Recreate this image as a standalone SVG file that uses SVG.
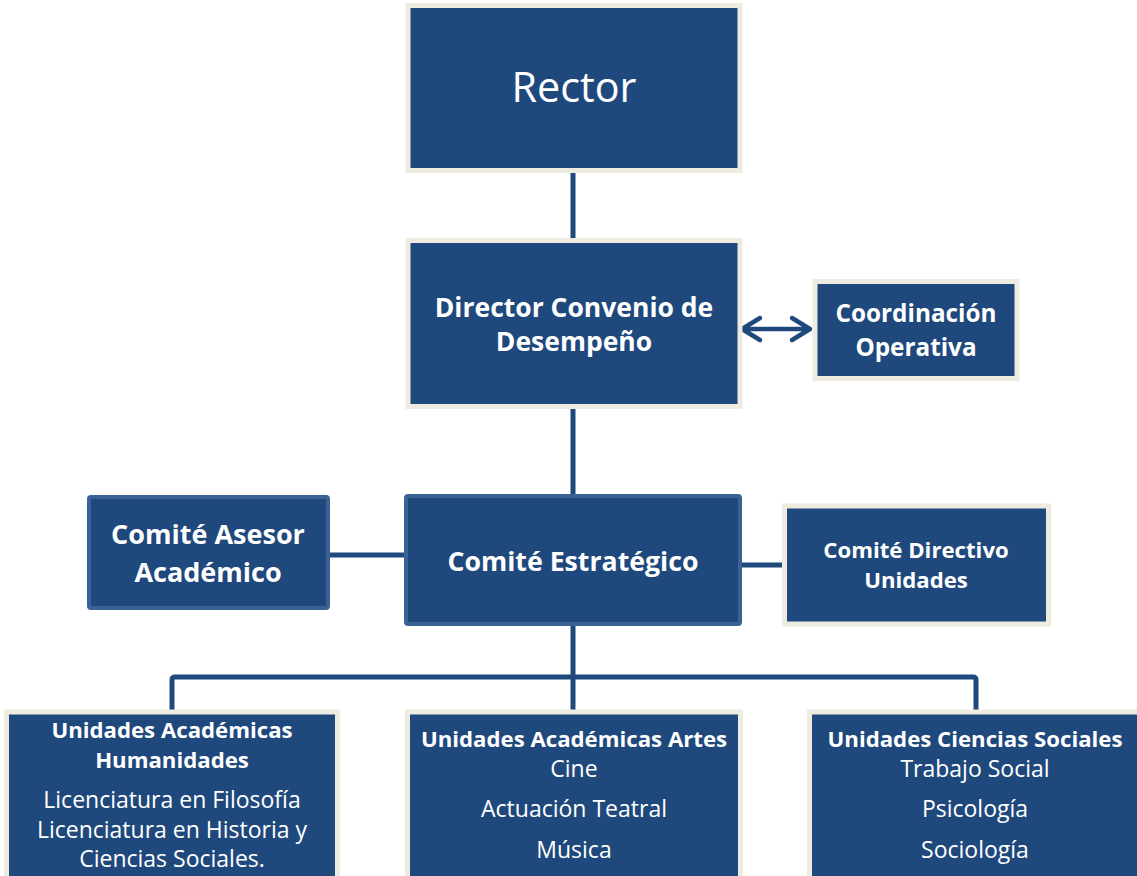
<svg xmlns="http://www.w3.org/2000/svg" width="1137" height="876" viewBox="0 0 1137 876">
<style>
.box{fill:#1f497d;stroke:#eeece1;stroke-width:5}
.boxb{fill:#1f497d;stroke:#3a6294;stroke-width:4}
.ln{fill:none;stroke:#1f497d;stroke-width:5}
.t{fill:#ffffff;font-family:"Open Sans","Noto Sans",sans-serif;text-anchor:middle}
.b{font-weight:bold}
.h{font-size:22.2px;font-weight:bold}
.r{font-size:23px}
</style>
<rect width="1137" height="876" fill="#ffffff"/>
<g id="connectors">
<line class="ln" x1="573" y1="172" x2="573" y2="240"/>
<line class="ln" x1="573" y1="407" x2="573" y2="496"/>
<line class="ln" x1="573" y1="624" x2="573" y2="712"/>
<path class="ln" d="M172 712 V680 Q172 677 175 677 H973 Q976 677 976 680 V712"/>
<line class="ln" x1="329" y1="555" x2="406" y2="555"/>
<line class="ln" x1="740" y1="565" x2="784" y2="565"/>
<g fill="none" stroke="#1f497d" stroke-width="4.5" stroke-linecap="round" stroke-linejoin="round">
<line x1="743" y1="329" x2="809" y2="329"/>
<path d="M760 318 L742 329 L760 340"/>
<path d="M792 318 L810 329 L792 340"/>
</g>
</g>
<g id="rector">
<rect class="box" x="408" y="5.5" width="332" height="165"/>
<text class="t" x="574" y="102" font-size="41.3">Rector</text>
</g>
<g id="director">
<rect class="box" x="408" y="240.5" width="332" height="166"/>
<text class="t b" x="574" y="317" font-size="26.5">Director Convenio de</text>
<text class="t b" x="574" y="351" font-size="26.5">Desempeño</text>
</g>
<g id="coordinacion">
<rect class="box" x="815" y="281.5" width="202" height="97"/>
<text class="t b" x="916" y="322" font-size="24.3">Coordinación</text>
<text class="t b" x="916" y="356" font-size="24.3">Operativa</text>
</g>
<g id="asesor">
<rect class="boxb" x="89" y="497" width="239" height="111" rx="2"/>
<text class="t b" x="208" y="544" font-size="27">Comité Asesor</text>
<text class="t b" x="208" y="582" font-size="27">Académico</text>
</g>
<g id="estrategico">
<rect class="boxb" x="406" y="496" width="334" height="128" rx="2"/>
<text class="t b" x="573" y="571" font-size="26.7">Comité Estratégico</text>
</g>
<g id="directivo">
<rect class="box" x="784.5" y="506" width="264" height="118"/>
<text class="t b" x="916" y="558" font-size="22.2">Comité Directivo</text>
<text class="t b" x="916" y="588" font-size="22.2">Unidades</text>
</g>
<g id="humanidades">
<rect class="box" x="6.5" y="712" width="331" height="170"/>
<text class="t h" x="172" y="738">Unidades Académicas</text>
<text class="t h" x="172" y="768">Humanidades</text>
<text class="t r" x="172" y="808">Licenciatura en Filosofía</text>
<text class="t r" x="172" y="838">Licenciatura en Historia y</text>
<text class="t r" x="172" y="867">Ciencias Sociales.</text>
</g>
<g id="artes">
<rect class="box" x="407.5" y="712" width="333" height="170"/>
<text class="t h" x="574" y="747">Unidades Académicas Artes</text>
<text class="t r" x="574" y="777">Cine</text>
<text class="t r" x="574" y="817">Actuación Teatral</text>
<text class="t r" x="574" y="858">Música</text>
</g>
<g id="ciencias">
<rect class="box" x="809.5" y="712" width="340" height="170"/>
<text class="t h" x="975" y="747">Unidades Ciencias Sociales</text>
<text class="t r" x="975" y="777">Trabajo Social</text>
<text class="t r" x="975" y="817">Psicología</text>
<text class="t r" x="975" y="858">Sociología</text>
</g>
</svg>
